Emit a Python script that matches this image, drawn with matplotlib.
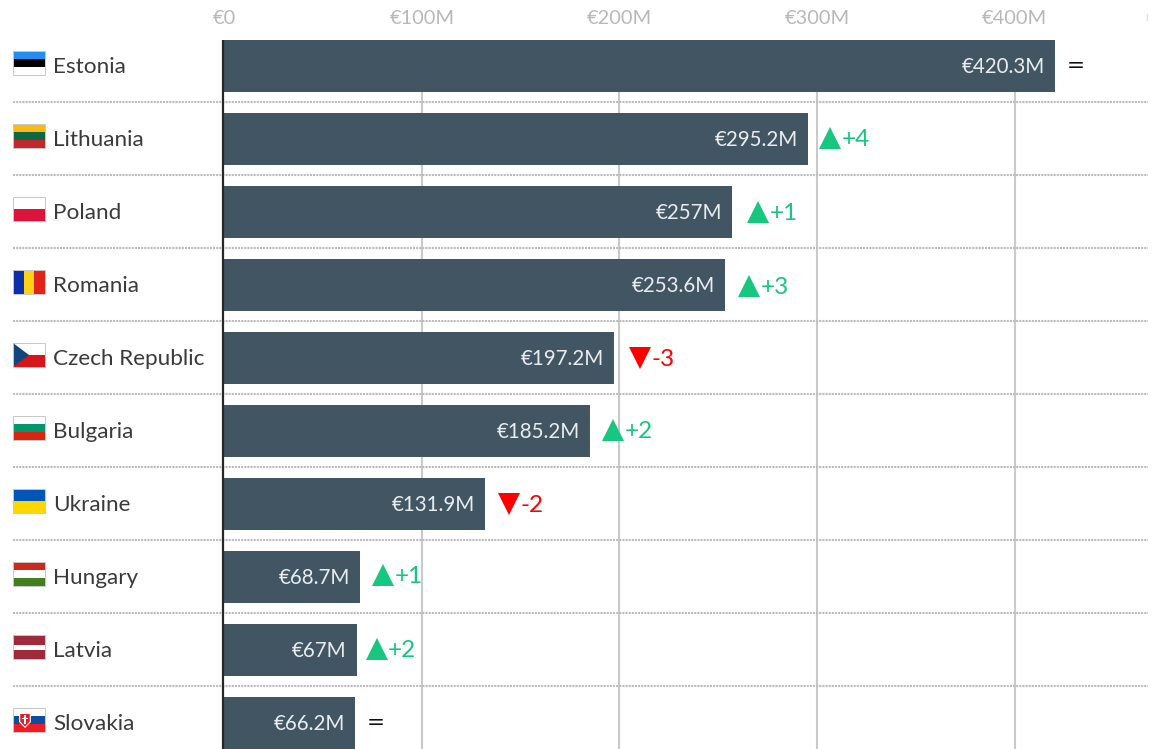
import matplotlib
matplotlib.use("Agg")
import matplotlib.pyplot as plt
from matplotlib.patches import Rectangle, Polygon
from matplotlib.transforms import ScaledTranslation

plt.rcParams['font.family'] = ['Lato', 'DejaVu Sans']

countries = ["Estonia", "Lithuania", "Poland", "Romania", "Czech Republic",
             "Bulgaria", "Ukraine", "Hungary", "Latvia", "Slovakia"]
values = [420.3, 295.2, 257, 253.6, 197.2, 185.2, 131.9, 68.7, 67, 66.2]
value_labels = ["€420.3M", "€295.2M", "€257M", "€253.6M", "€197.2M",
                "€185.2M", "€131.9M", "€68.7M", "€67M", "€66.2M"]
changes = [0, 4, 1, 3, -3, 2, -2, 1, 2, 0]
ticks = [0, 100, 200, 300, 400]
tick_labels = ["€0", "€100M", "€200M", "€300M", "€400M"]

# per-row pixel offsets of the change marker from the bar end (layout only)
marker_gaps = [21, 22.5, 26, 24, 26, 23, 24, 23, 20, 21]
marker_dys = [0, -0.5, 0, 1, 0, -1, 0, -2, -1, 0]

W, H = 1153, 749
fig = plt.figure(figsize=(W / 100, H / 100), dpi=100)
ax = fig.add_axes([0, 0, 1, 1])
PX = 1.976
ROW = 73.0
ax.set_xlim(-224.2 / PX, (W - 224.2) / PX)
ax.set_ylim((H - 66) / ROW, -66 / ROW)
ax.axis("off")

ov = fig.add_axes([0, 0, 1, 1], zorder=5)
ov.set_xlim(0, W)
ov.set_ylim(H, 0)
ov.axis("off")
ov.patch.set_alpha(0)


def off(dx, dy=0):
    return ax.transData + ScaledTranslation(dx / 100, -dy / 100, fig.dpi_scale_trans)


BAR = "#425563"
UP = "#17c67f"
DOWN = "#fe0000"

y_pos = list(range(len(countries)))
top_grid = -0.36
for t in ticks[1:]:
    ax.plot([t, t], [top_grid, 9.5], color="#c9c9c9", lw=1.5, zorder=1, solid_capstyle="butt")
for i in y_pos:
    ax.plot([-211 / PX, (1148 - 224) / PX], [i + 0.493, i + 0.493],
            color="#bcbcbc", lw=1.5, ls=(0, (1, 0.5)), zorder=2)
ax.barh(y_pos, values, height=52 / ROW, color=BAR, zorder=3)
ax.plot([-0.5, -0.5], [top_grid, 9.5], color="#26292c", lw=1.6, zorder=4, solid_capstyle="butt")

for t, lab in zip(ticks, tick_labels):
    ax.text(t, -0.65, lab, ha="center", va="center", fontsize=14.4, color="#b8b8b8")
ov.plot([1147, 1147], [14, 20], color="#e2e2e2", lw=1)

for i, (c, v, lab, ch) in enumerate(zip(countries, values, value_labels, changes)):
    ax.text(v, i, lab, transform=off(-10, 1), ha="right", va="center", fontsize=14.8, color="#e9edf0", zorder=6)
    ov.text(53, 67 + ROW * i, c, ha="left", va="center", fontsize=16.2, color="#3a3a3a")
    gap, dy = marker_gaps[i], marker_dys[i]
    if ch == 0:
        ax.text(v, i, "=", transform=off(gap, 0), ha="center", va="center", fontsize=15.5, color="#111111", family="DejaVu Sans")
    else:
        col = UP if ch > 0 else DOWN
        ax.plot([v], [i], marker="^" if ch > 0 else "v", ms=16.5, mew=0, color=col,
                transform=off(gap, dy - 0.5 if ch > 0 else dy), clip_on=False, zorder=6)
        ax.text(v, i, f"{ch:+d}", transform=off(gap + 11.5, dy + 1.5), ha="left", va="center", fontsize=17.5, color=col, zorder=6)


def hstripes(y, cols):
    n = len(cols)
    h = 24 / n
    for k, col in enumerate(cols):
        ov.add_patch(Rectangle((13, y + k * h), 32, h, fc=col, ec="none"))


def border(y):
    ov.add_patch(Rectangle((13, y), 32, 24, fc="none", ec="#c8c8c8", lw=0.7))


tops = [51 + ROW * i for i in y_pos]
hstripes(tops[0], ["#1f8ff0", "#000000", "#ffffff"])
hstripes(tops[1], ["#fdb913", "#0b6a44", "#c1272d"])
hstripes(tops[2], ["#ffffff", "#dc143c"])
for k, col in enumerate(["#0a2fa8", "#fcd116", "#e2231a"]):
    ov.add_patch(Rectangle((13 + k * 32 / 3, tops[3]), 32 / 3, 24, fc=col, ec="none"))
hstripes(tops[4], ["#ffffff", "#d7141a"])
ov.add_patch(Polygon([(13, tops[4]), (29, tops[4] + 12), (13, tops[4] + 24)], fc="#11457e", ec="none"))
hstripes(tops[5], ["#ffffff", "#00966e", "#d62612"])
hstripes(tops[6], ["#0057b7", "#ffd700"])
hstripes(tops[7], ["#cd2a1e", "#ffffff", "#437f1f"])
ov.add_patch(Rectangle((13, tops[8]), 32, 24, fc="#9e2a3c", ec="none"))
ov.add_patch(Rectangle((13, tops[8] + 9.5), 32, 5, fc="#ffffff", ec="none"))
hstripes(tops[9], ["#ffffff", "#0b4ea2", "#ee1c25"])
ty = tops[9]
ov.add_patch(Polygon([(19, ty + 5), (31, ty + 5), (31, ty + 14), (25, ty + 20), (19, ty + 14)], fc="#ffffff", ec="none"))
ov.add_patch(Polygon([(20.2, ty + 6), (29.8, ty + 6), (29.8, ty + 13.5), (25, ty + 18.5), (20.2, ty + 13.5)], fc="#ee1c25", ec="none"))
ov.add_patch(Rectangle((24.4, ty + 7), 1.2, 9, fc="#ffffff", ec="none"))
ov.add_patch(Rectangle((22.3, ty + 9.5), 5.4, 1.1, fc="#ffffff", ec="none"))
for t in tops:
    border(t)

fig.savefig("out.png", dpi=100)
